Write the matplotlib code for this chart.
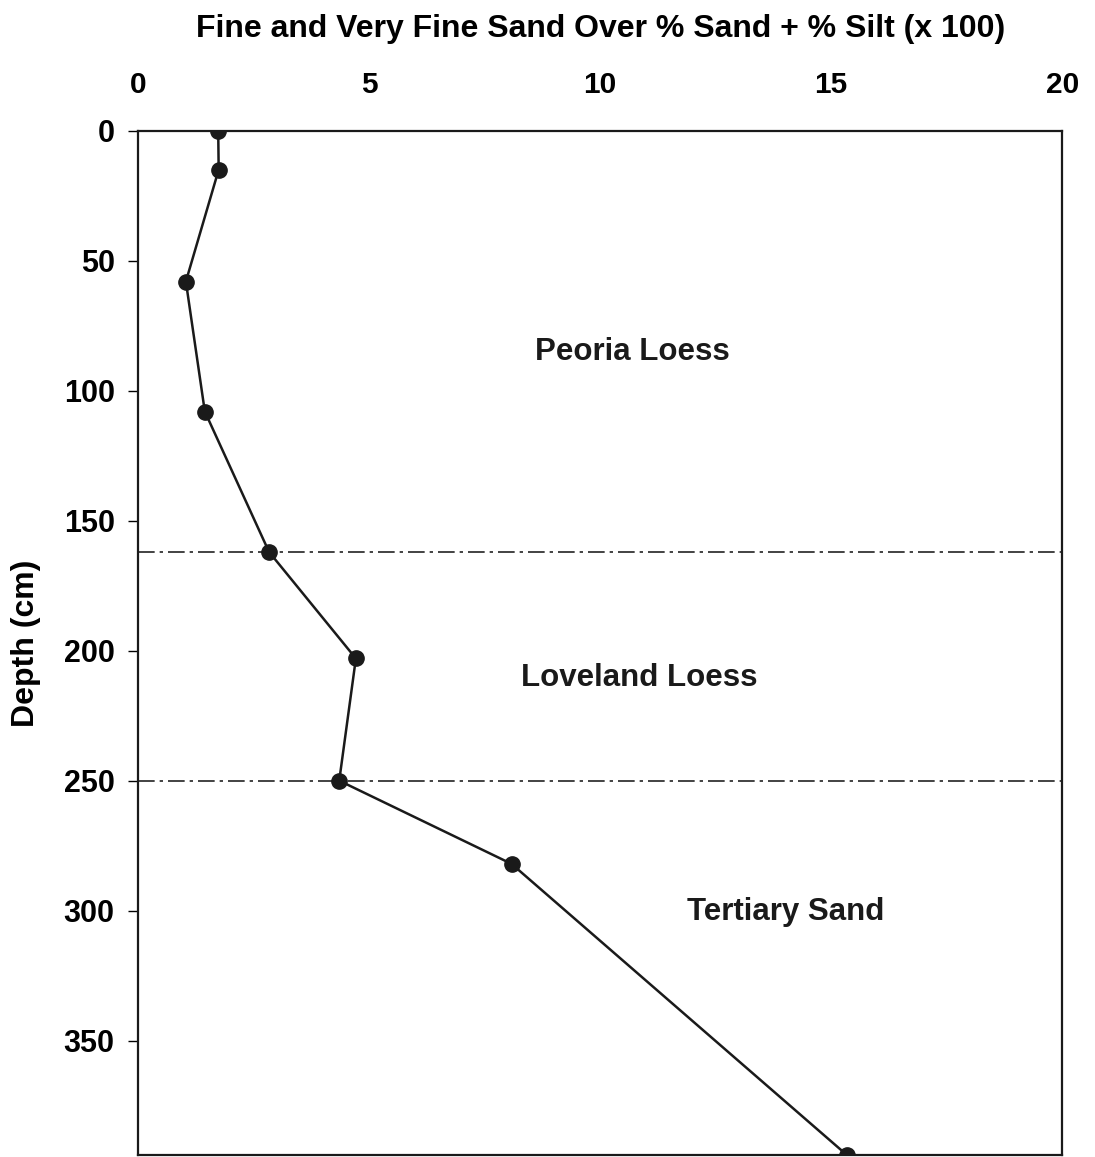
"""Depth profile of fine + very fine sand ratio (black and white, report style)."""
import matplotlib

matplotlib.use("Agg")
import matplotlib.pyplot as plt

# ratio values (x 100) and sample depths (cm)
ratio = [1.73, 1.74, 1.03, 1.44, 2.83, 4.71, 4.35, 8.08, 15.34]
depth = [0, 15, 58, 108, 162, 203, 250, 282, 394]

# unit boundaries (cm)
boundaries = [162, 250]

# unit labels: (text, x, depth)
units = ["Peoria Loess", "Loveland Loess", "Tertiary Sand"]
unit_x = [10.69, 10.84, 14.02]
unit_y = [85, 210.5, 300.5]

x_ticks = [0, 5, 10, 15, 20]
y_ticks = [0, 50, 100, 150, 200, 250, 300, 350]

plt.rcParams["font.family"] = ["Liberation Sans", "DejaVu Sans"]
plt.rcParams["font.weight"] = "bold"

fig = plt.figure(figsize=(10.95, 11.57), dpi=100)
ax = fig.add_axes([0.1263, 0.0017, 0.8437, 0.8853])

ax.plot(ratio, depth, "-o", color="#1a1a1a", lw=1.8, markersize=11,
        clip_on=True, zorder=3)
for b in boundaries:
    ax.axhline(b, color="#222222", lw=1.2, ls=(0, (10, 3, 2, 3)), zorder=2)

for t, x, y in zip(units, unit_x, unit_y):
    ax.text(x, y, t, ha="center", va="center", fontsize=22.5, fontweight="bold",
            color="#1a1a1a")

ax.set_xlim(0, 20)
ax.set_ylim(394, 0)
ax.set_xticks(x_ticks)
ax.set_yticks(y_ticks)
ax.xaxis.tick_top()
ax.xaxis.set_label_position("top")
ax.tick_params(axis="x", length=0, pad=23, labelsize=21.5)
ax.tick_params(axis="y", direction="out", length=7, width=1, pad=10, labelsize=22)
for lbl in ax.get_xticklabels() + ax.get_yticklabels():
    lbl.set_fontweight("bold")
for s in ax.spines.values():
    s.set_linewidth(1.6)
    s.set_color("#1a1a1a")

ax.set_xlabel("Fine and Very Fine Sand Over % Sand + % Silt (x 100)",
              fontsize=23, fontweight="bold", labelpad=24)
ax.set_ylabel("Depth (cm)", fontsize=23, fontweight="bold", labelpad=16)

fig.savefig("out.png", dpi=100)
